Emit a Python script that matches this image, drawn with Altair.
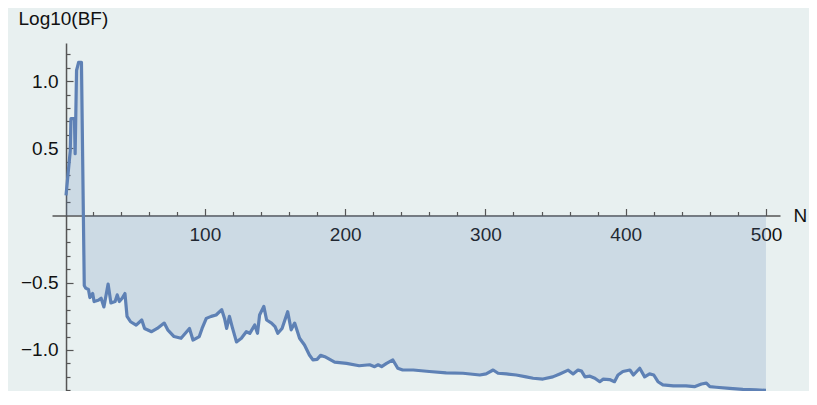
import altair as alt
import pandas as pd

# ---- data ----
N = [1, 4, 4.5, 7, 7.5, 8.5, 10, 12, 14, 15, 17, 18, 20, 21, 24, 26, 28, 31, 33, 36,
     37.5, 39, 41, 43, 44.5, 47, 51, 55, 57, 62, 66, 71, 73.5, 78, 83, 89, 91.5, 96, 98,
     101, 104.5, 108, 112, 114, 115.5, 117.5, 119.5, 122.5, 126, 129.5, 132, 135.5,
     137.5, 139, 142, 144, 147.5, 150, 152, 155, 159, 161.5, 164, 167.5, 171, 174.5,
     177, 180, 182.5, 185.5, 189, 192.5, 201, 210, 217.5, 221, 223.5, 226, 229.5, 234,
     237.5, 241, 248.5, 260, 272, 284, 296, 300.5, 305.5, 309, 315, 322, 329, 334, 341,
     348, 353, 359, 362.5, 366, 368.5, 371, 374.5, 378, 381.5, 384, 388.5, 392, 394.5,
     398, 403, 405.5, 410, 413.5, 417, 420, 423, 426.5, 434, 443, 449, 454, 457.5, 460,
     464.5, 474, 483.5, 493, 500]
LOGBF = [0.15, 0.48, 0.72, 0.72, 0.46, 1.08, 1.14, 1.14, -0.52, -0.54, -0.55, -0.61,
         -0.58, -0.64, -0.63, -0.615, -0.68, -0.51, -0.65, -0.64, -0.59, -0.64, -0.615,
         -0.58, -0.75, -0.79, -0.815, -0.777, -0.84, -0.864, -0.84, -0.80, -0.85, -0.90,
         -0.913, -0.84, -0.926, -0.90, -0.84, -0.765, -0.75, -0.74, -0.70, -0.765, -0.84,
         -0.75, -0.83, -0.94, -0.913, -0.864, -0.876, -0.814, -0.876, -0.74, -0.676,
         -0.777, -0.80, -0.826, -0.876, -0.84, -0.715, -0.85, -0.80, -0.913, -0.963,
         -1.037, -1.074, -1.07, -1.04, -1.05, -1.07, -1.09, -1.10, -1.117, -1.11, -1.124,
         -1.11, -1.124, -1.10, -1.074, -1.136, -1.149, -1.149, -1.16, -1.17, -1.173,
         -1.186, -1.178, -1.149, -1.173, -1.178, -1.186, -1.20, -1.21, -1.216, -1.20,
         -1.178, -1.15, -1.178, -1.149, -1.157, -1.20, -1.195, -1.21, -1.236, -1.217,
         -1.22, -1.236, -1.186, -1.16, -1.149, -1.186, -1.136, -1.20, -1.178, -1.186,
         -1.236, -1.26, -1.267, -1.267, -1.273, -1.253, -1.247, -1.273, -1.277, -1.285,
         -1.293, -1.297, -1.30]

X_MAJOR = [100, 200, 300, 400, 500]
X_MINOR = [20, 40, 60, 80, 120, 140, 160, 180, 220, 240, 260, 280, 320, 340, 360, 380,
           420, 440, 460, 480]
Y_MAJOR = [-1.0, -0.5, 0.5, 1.0]
Y_MINOR = [-1.3, -1.2, -1.1, -0.9, -0.8, -0.7, -0.6, -0.4, -0.3, -0.2, -0.1,
           0.1, 0.2, 0.3, 0.4, 0.6, 0.7, 0.8, 0.9, 1.1, 1.2]

df = pd.DataFrame({"N": N, "BF": LOGBF})

# ---- layout ----
X_DOM = [-9, 510]
Y_DOM = [-1.305, 1.283]
W, H = 728, 348
PAD = {"left": 44, "top": 35, "right": 29, "bottom": 0}

def px_x(v):
    return W * (v - X_DOM[0]) / (X_DOM[1] - X_DOM[0])

def px_y(v):
    return H * (Y_DOM[1] - v) / (Y_DOM[1] - Y_DOM[0])

x_axis_px = px_x(1)
y_zero_px = px_y(0)

FONT = "Liberation Sans"
AX = "#555555"
TXT = "#111111"
LINE = "#5E81B5"

xs = alt.Scale(domain=X_DOM, nice=False, zero=False)
ys = alt.Scale(domain=Y_DOM, nice=False, zero=False)

# labels axes (on area layer)
x_lab = alt.Axis(orient="bottom", offset=-(H - y_zero_px), values=X_MAJOR, ticks=False,
                 domain=False, grid=False, labelFont=FONT, labelFontSize=19,
                 labelColor=TXT, labelPadding=10, labelFlush=False, format="d",
                 title="N", titleX=W + 13, titleY=0, titleAlign="left",
                 titleBaseline="middle", titleFont=FONT, titleFontSize=19,
                 titleFontWeight="normal", titleColor=TXT, titleAngle=0)
y_lab = alt.Axis(orient="left", offset=-x_axis_px, values=Y_MAJOR, ticks=False,
                 domain=False, grid=False, labelFont=FONT, labelFontSize=19,
                 labelColor=TXT, labelPadding=8, labelFlush=False,
                 labelExpr="replace(format(datum.value, '.1f'), '-', '\u2212')",
                 title="Log10(BF)", titleAngle=0, titleX=-48, titleY=-25,
                 titleAlign="left", titleBaseline="middle", titleFont=FONT,
                 titleFontSize=19, titleFontWeight="normal", titleColor=TXT)

# major ticks + axis lines (on line layer)
x_maj = alt.Axis(orient="top", offset=-y_zero_px, values=X_MAJOR, labels=False,
                 tickSize=7, tickWidth=1.2, tickColor=AX, domain=True, domainColor=AX,
                 domainWidth=1.5, grid=False, title=None)
y_maj = alt.Axis(orient="right", offset=-(W - x_axis_px), values=Y_MAJOR, labels=False,
                 tickSize=7, tickWidth=1.2, tickColor=AX, domain=True, domainColor=AX,
                 domainWidth=1.5, grid=False, title=None)

# minor ticks (on invisible layer)
x_min = alt.Axis(orient="top", offset=-y_zero_px, values=X_MINOR, labels=False,
                 tickSize=4, tickWidth=1.2, tickColor=AX, domain=False, grid=False,
                 title=None)
y_min = alt.Axis(orient="right", offset=-(W - x_axis_px), values=Y_MINOR, labels=False,
                 tickSize=4, tickWidth=1.2, tickColor=AX, domain=False, grid=False,
                 title=None)

base = alt.Chart(df)

area = base.mark_area(color=LINE, opacity=0.2, interpolate="linear").encode(
    x=alt.X("N:Q", scale=xs, axis=x_lab),
    y=alt.Y("BF:Q", scale=ys, axis=y_lab),
    y2=alt.datum(0),
)

line = base.mark_line(color=LINE, strokeWidth=3.2, strokeJoin="round").encode(
    x=alt.X("N:Q", scale=xs, axis=x_maj),
    y=alt.Y("BF:Q", scale=ys, axis=y_maj),
)

ghost = base.mark_line(strokeOpacity=0).encode(
    x=alt.X("N:Q", scale=xs, axis=x_min),
    y=alt.Y("BF:Q", scale=ys, axis=y_min),
)

chart = (
    alt.layer(area, line, ghost)
    .resolve_axis(x="independent", y="independent")
    .properties(width=W, height=H, padding=PAD,
                autosize=alt.AutoSizeParams(type="none"),
                background="#e8f0f0")
    .configure_view(stroke=None)
)

chart.save("out.html", embed_options={"renderer": "svg", "actions": False})
